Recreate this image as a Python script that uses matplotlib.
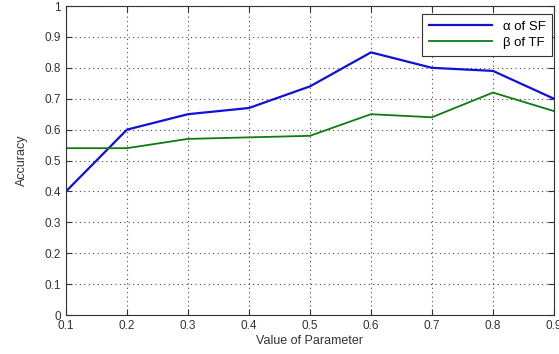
import matplotlib.pyplot as plt

params = [0.1, 0.2, 0.3, 0.4, 0.5, 0.6, 0.7, 0.8, 0.9]
alpha_sf = [0.40, 0.60, 0.65, 0.67, 0.74, 0.85, 0.80, 0.79, 0.70]
beta_tf = [0.54, 0.54, 0.57, 0.575, 0.58, 0.65, 0.64, 0.72, 0.66]

plt.rcParams['font.family'] = ['Liberation Sans', 'DejaVu Sans']

fig = plt.figure(figsize=(5.59, 3.54), dpi=100)
ax = fig.add_axes([0.118, 0.110, 0.873, 0.873])

ax.plot(params, alpha_sf, color='#1010d8', lw=1.6, label='α of SF')
ax.plot(params, beta_tf, color='#107a10', lw=1.3, label='β of TF')

ax.set_xlim(0.1, 0.9)
ax.set_ylim(0, 1)
ax.set_xticks(params)
ax.set_xticklabels([f'{p:g}' for p in params])
ax.set_yticks([i / 10 for i in range(11)])
ax.set_yticklabels(['0'] + [f'{i / 10:g}' for i in range(1, 10)] + ['1'])
ax.tick_params(direction='in', top=True, right=True, labelsize=8.5, colors='#333333', length=4)
ax.grid(True, linestyle=(0, (1, 3)), color='#444444', lw=0.8)
for s in ax.spines.values():
    s.set_color('#333333')

ax.set_xlabel('Value of Parameter', fontsize=9, color='#333333', labelpad=2)
ax.set_ylabel('Accuracy', fontsize=9, color='#333333', labelpad=12)

leg = ax.legend(loc='upper right', bbox_to_anchor=(0.996, 0.974), borderaxespad=0,
                fontsize=9.5, fancybox=False, framealpha=1, edgecolor='#333333',
                handlelength=4.8, borderpad=0.5, labelspacing=0.3)
leg.get_frame().set_linewidth(0.8)

fig.savefig('out.png', dpi=100)
